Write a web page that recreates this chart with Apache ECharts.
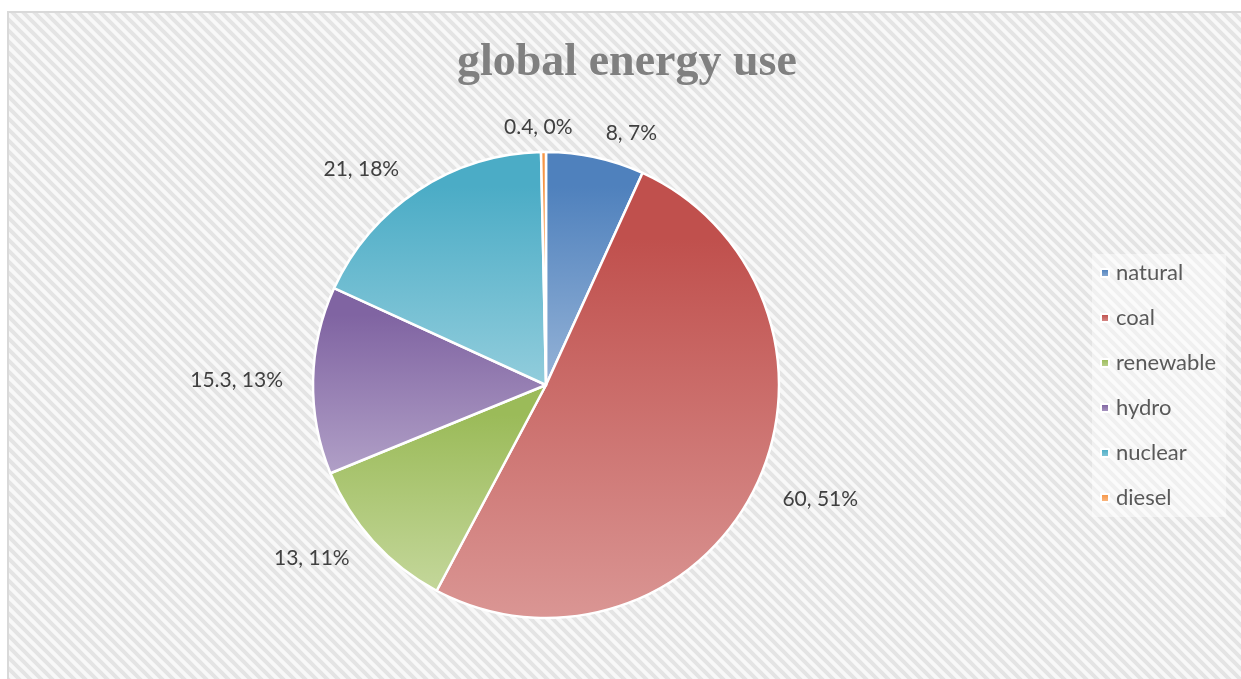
<!DOCTYPE html>
<html>
<head>
<meta charset="utf-8">
<style>
  html, body { margin: 0; padding: 0; background: #ffffff; overflow: hidden; }
  #chart { width: 1241px; height: 679px; }
</style>
<script src="https://cdn.jsdelivr.net/npm/echarts@6/dist/echarts.min.js"></script>
</head>
<body>
<div id="chart"></div>
<script>
// ---- data ----
const categories = ['natural', 'coal', 'renewable', 'hydro', 'nuclear', 'diesel'];
const values = [8, 60, 13, 15.3, 21, 0.4];
const percentLabels = ['7%', '51%', '11%', '13%', '18%', '0%'];
const titleText = 'global energy use';

// ---- styles ----
const darkColors  = ['#4F81BD', '#C0504D', '#9BBB59', '#8064A2', '#4BACC6', '#F79646'];
const lightColors = ['#95B3D7', '#DA9694', '#C4D79B', '#B1A0C7', '#92CDDC', '#FABF8F'];

function makeStripePattern() {
  const n = 11;
  const c = document.createElement('canvas');
  c.width = n; c.height = n;
  const g = c.getContext('2d');
  g.fillStyle = '#f8f8f8';
  g.fillRect(0, 0, n, n);
  g.strokeStyle = '#e4e4e4';
  g.lineWidth = 4;
  g.beginPath();
  g.moveTo(-n, -n); g.lineTo(2 * n, 2 * n);
  g.moveTo(-n, 0); g.lineTo(n, 2 * n);
  g.moveTo(0, -n); g.lineTo(2 * n, n);
  g.stroke();
  return c;
}

const seriesData = categories.map((name, i) => ({
  name: name,
  value: values[i],
  itemStyle: {
    color: {
      type: 'linear', x: 0, y: 0, x2: 0, y2: 1,
      colorStops: [
        { offset: 0, color: darkColors[i] },
        { offset: 0.15, color: darkColors[i] },
        { offset: 1, color: lightColors[i] }
      ]
    }
  }
}));

const chart = echarts.init(document.getElementById('chart'), null, { renderer: 'canvas' });
chart.setOption({
  animation: false,
  color: darkColors,
  graphic: [{
    type: 'rect',
    z: -10,
    silent: true,
    shape: { x: 8, y: 12, width: 1400, height: 900 },
    style: {
      fill: { image: makeStripePattern(), repeat: 'repeat' }
    }
  }, {
    type: 'polyline',
    z: -9,
    silent: true,
    shape: { points: [[8, 900], [8, 12], [1400, 12]] },
    style: { fill: null, stroke: '#d9d9d9', lineWidth: 2 }
  }],
  title: {
    text: titleText,
    left: 452,
    top: 35,
    textStyle: {
      fontFamily: '"Liberation Serif", "DejaVu Serif", serif',
      fontWeight: 'bold',
      fontSize: 46,
      color: '#808080'
    }
  },
  legend: {
    orient: 'vertical',
    left: 1092,
    top: 254,
    padding: [8, 10, 8, 8],
    backgroundColor: 'rgba(255,255,255,0.45)',
    itemWidth: 8,
    itemHeight: 8,
    itemGap: 23,
    icon: 'rect',
    data: categories,
    textStyle: {
      fontFamily: 'Lato, "Open Sans", sans-serif',
      fontSize: 22,
      color: '#595959',
      padding: [0, 0, 0, 2]
    },
    selectedMode: false
  },
  series: [{
    type: 'pie',
    center: [546, 385],
    radius: 233,
    startAngle: 90,
    clockwise: true,
    avoidLabelOverlap: false,
    itemStyle: { borderColor: '#ffffff', borderWidth: 2.5 },
    label: {
      show: true,
      position: 'outside',
      formatter: p => p.value + ', ' + percentLabels[p.dataIndex],
      fontFamily: 'Lato, "Open Sans", sans-serif',
      fontSize: 21,
      color: '#404040'
    },
    labelLine: { show: false, length: 25, length2: 0 },
    labelLayout: function (p) {
      if (p.dataIndex === values.length - 1) {
        return { dx: p.labelRect.width / 2 };
      }
      return {};
    },
    emphasis: { disabled: true },
    data: seriesData
  }]
});
</script>
</body>
</html>
